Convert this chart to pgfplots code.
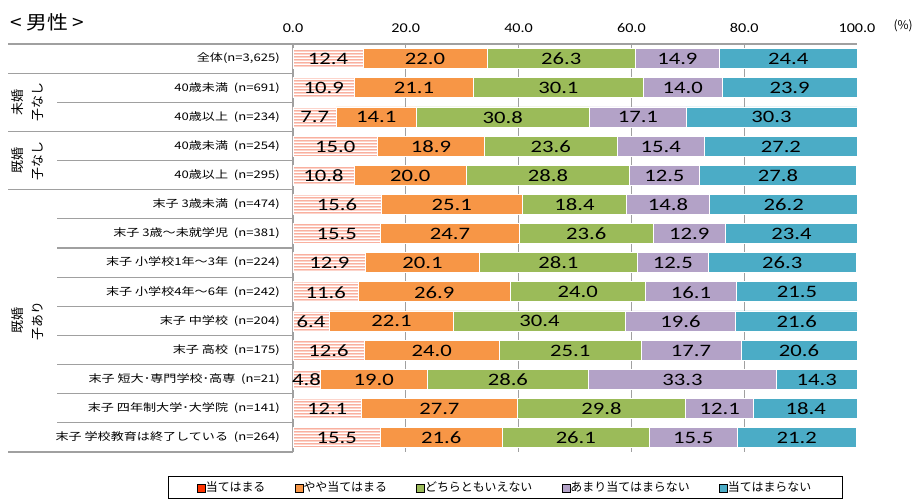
\documentclass[border=0pt]{standalone}
\usepackage{fontspec}
\usepackage{pgfplots}
\pgfplotsset{compat=1.18}
\usepackage{pgfplotstable}
\usetikzlibrary{patterns}

\setmainfont{Noto Sans CJK JP}
\newfontfamily\jp{Noto Sans CJK JP}
\newfontfamily\jpt[FakeStretch=1.1]{Noto Sans CJK JP}
\newfontfamily\jpw[FakeStretch=1.25]{Noto Sans CJK JP}
\newfontfamily\numw[FakeStretch=1.3]{Carlito}
\newfontfamily\tickf[FakeStretch=1.2]{Carlito}

\definecolor{cA}{HTML}{FF3300}
\definecolor{cAline}{HTML}{F7866C}
\definecolor{cB}{HTML}{F79646}
\definecolor{cC}{HTML}{9BBB59}
\definecolor{cD}{HTML}{B3A2C7}
\definecolor{cE}{HTML}{4BACC6}
\definecolor{rulegray}{HTML}{A0A0A0}

% thin horizontal stripes, 3bp apart, on a wide tile
\pgfdeclarepatternformonly{hstripes}{\pgfpointorigin}{\pgfpoint{60bp}{3bp}}{\pgfpoint{60bp}{3bp}}{%
  \pgfpathrectangle{\pgfpoint{-1bp}{0.9bp}}{\pgfpoint{62bp}{1.1bp}}\pgfusepath{fill}}

% shares of answers per group (percent)
\pgfplotstableread{
idx a b c d e
0 12.4 22.0 26.3 14.9 24.4
1 10.9 21.1 30.1 14.0 23.9
2 7.7 14.1 30.8 17.1 30.3
3 15.0 18.9 23.6 15.4 27.2
4 10.8 20.0 28.8 12.5 27.8
5 15.6 25.1 18.4 14.8 26.2
6 15.5 24.7 23.6 12.9 23.4
7 12.9 20.1 28.1 12.5 26.3
8 11.6 26.9 24.0 16.1 21.5
9 6.4 22.1 30.4 19.6 21.6
10 12.6 24.0 25.1 17.7 20.6
11 4.8 19.0 28.6 33.3 14.3
12 12.1 27.7 29.8 12.1 18.4
13 15.5 21.6 26.1 15.5 21.2
}\resp

\pgfplotsset{
  common/.style={
    at={(0,0)}, anchor=south west,
    scale only axis, width=564bp, height=408bp,
    xmin=0, xmax=100, ymin=-0.5, ymax=13.5, y dir=reverse,
    clip=false,
  },
  seg/.style={draw=white, line width=0.6bp, fill=#1},
  lbl/.style={
    draw=none, mark=none, point meta=explicit,
    /pgf/number format/assume math mode=true,
    nodes near coords={\pgfmathprintnumber[fixed,fixed zerofill,precision=1]{\pgfplotspointmeta}},
    nodes near coords align={anchor=center},
    every node near coord/.append style={font=\numw\fontsize{17.5}{17.5}\selectfont, text=black, inner sep=0pt, yshift=-0.5bp},
  },
}

\begin{document}
\begin{tikzpicture}
\useasboundingbox (-293bp,-47bp) rectangle (621bp,452bp);
\begin{axis}[
  common,
  xbar stacked, bar width=20bp,
  axis x line*=top, axis y line*=left,
  axis line style={rulegray, line width=1.2bp},
  xtick={0,20,...,100},
  xticklabels={0.0,20.0,40.0,60.0,80.0,100.0},
  xticklabel style={font=\tickf\fontsize{13.5}{13.5}\selectfont, yshift=8bp},
  xtick style={draw=none},
  extra x ticks={20,40,60,80},
  extra x tick labels={},
  extra x tick style={xmajorgrids=true, major grid style={rulegray, line width=1bp}},
  ytick={0,...,13},
  ytick style={draw=none},
  yticklabels={
    {全体(n=3,625)},
    {40歳未満\ \ (n=691)},
    {40歳以上\ \ (n=234)},
    {40歳未満\ \ (n=254)},
    {40歳以上\ \ (n=295)},
    {末子 3歳未満\ \ (n=474)},
    {末子 3歳～未就学児\ \ (n=381)},
    {末子 小学校1年～3年\ \ (n=224)},
    {末子 小学校4年～6年\ \ (n=242)},
    {末子 中学校\ \ (n=204)},
    {末子 高校\ \ (n=175)},
    {末子 短大･専門学校･高専\ \ (n=21)},
    {末子 四年制大学･大学院\ \ (n=141)},
    {末子 学校教育は終了している\ \ (n=264)}},
  yticklabel style={font=\jpw\fontsize{10.5}{10.5}\selectfont, anchor=east, inner sep=0pt, xshift=-13bp},
  legend columns=5,
  legend image code/.code={\fill[#1] (0bp,-5bp) rectangle (8bp,3bp);},
  legend style={
    at={(axis description cs:-0.2216,-0.0588)}, anchor=north west,
    draw=black, line width=0.6bp,
    font=\jp\fontsize{12}{13}\selectfont,
    inner xsep=29bp, inner ysep=3bp,
    /tikz/every even column/.append style={column sep=27.5bp},
    /tikz/every odd column/.append style={column sep=-2bp},
  },
]
\addplot[forget plot, fill=white, draw=white, line width=0.6bp,
  postaction={pattern=hstripes, pattern color=cAline}]
  table[x=a, y=idx] {\resp};
\addplot[forget plot, seg=cB] table[x=b, y=idx] {\resp};
\addplot[forget plot, seg=cC] table[x=c, y=idx] {\resp};
\addplot[forget plot, seg=cD] table[x=d, y=idx] {\resp};
\addplot[forget plot, seg=cE] table[x=e, y=idx] {\resp};

\addlegendimage{fill=cA}\addlegendentry{当てはまる}
\addlegendimage{fill=cB}\addlegendentry{やや当てはまる}
\addlegendimage{fill=cC}\addlegendentry{どちらともいえない}
\addlegendimage{fill=cD}\addlegendentry{あまり当てはまらない}
\addlegendimage{fill=cE}\addlegendentry{当てはまらない}

% table rules at the left
\pgfplotsinvokeforeach{-0.5,0.5,2.5,4.5,13.5}{
  \draw[rulegray, line width=1.2bp] (axis cs:-50.5,#1) -- (axis cs:0,#1);
}
\pgfplotsinvokeforeach{1.5,3.5,5.5,6.5,7.5,8.5,9.5,10.5,11.5,12.5}{
  \draw[rulegray, line width=1.2bp] (axis cs:-41.8,#1) -- (axis cs:0,#1);
}

% group captions
\node[rotate=90, align=center, font=\jp\fontsize{13}{20}\selectfont] at (axis cs:-47.0,1.5) {未婚\\子なし};
\node[rotate=90, align=center, font=\jp\fontsize{13}{20}\selectfont] at (axis cs:-47.0,3.5) {既婚\\子なし};
\node[rotate=90, align=center, font=\jp\fontsize{13}{20}\selectfont] at (axis cs:-47.0,9.0) {既婚\\子あり};

\node[anchor=west, font=\jpt\fontsize{19}{19}\selectfont, inner sep=0pt] at (axis cs:-50.2,-1.26) {<\ 男性\ >};
\node[anchor=east, font=\jp\fontsize{12}{12}\selectfont, inner sep=0pt] at (axis cs:109.9,-1.12) {(\%)};
\end{axis}

\begin{axis}[common, hide axis]
\addplot[lbl] table[x expr=\thisrow{a}/2, y=idx, meta=a] {\resp};
\addplot[lbl] table[x expr=\thisrow{a}+\thisrow{b}/2, y=idx, meta=b] {\resp};
\addplot[lbl] table[x expr=\thisrow{a}+\thisrow{b}+\thisrow{c}/2, y=idx, meta=c] {\resp};
\addplot[lbl] table[x expr=\thisrow{a}+\thisrow{b}+\thisrow{c}+\thisrow{d}/2, y=idx, meta=d] {\resp};
\addplot[lbl] table[x expr=\thisrow{a}+\thisrow{b}+\thisrow{c}+\thisrow{d}+\thisrow{e}/2, y=idx, meta=e] {\resp};
\end{axis}
\end{tikzpicture}
\end{document}
